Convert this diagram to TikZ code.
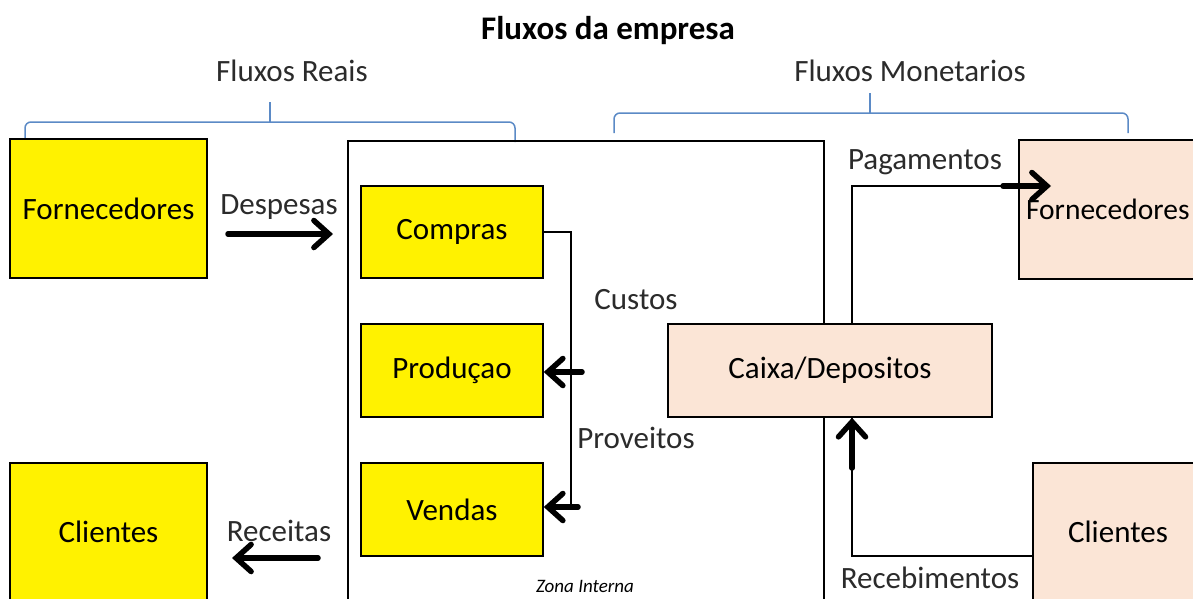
\documentclass[tikz,border=0pt]{standalone}
\usepackage{fontspec}
\setmainfont{Carlito}
\usetikzlibrary{arrows.meta}
\definecolor{peach}{HTML}{FBE5D6}
\definecolor{bracec}{HTML}{5B8AC6}
\definecolor{labc}{HTML}{2B2B2B}
\begin{document}
\begin{tikzpicture}[x=1pt,y=-1pt,
  box/.style={draw=black, line width=1.5pt, inner sep=0pt, font=\fontsize{31}{35}\selectfont},
  ybox/.style={box, fill=yellow},
  pbox/.style={box, fill=peach},
  lab/.style={font=\fontsize{31}{35}\selectfont, text=labc, inner sep=0pt},
  thinline/.style={draw=black, line width=1.5pt},
  fat/.style={draw=black, line width=5.5pt, line cap=round, -{Straight Barb[length=15pt,width=27pt,line cap=round]}},
  bracel/.style={draw=bracec, line width=1.5pt}
]
\useasboundingbox (0,0) rectangle (1193,598);
\clip (0,0) rectangle (1193,598);
\fill[white] (0,0) rectangle (1193,598);

% title and braces
\node[font=\fontsize{33}{37}\selectfont\bfseries, inner sep=0pt] (title) at (608,31) {Fluxos da empresa};
\node[lab] (reais) at (292,71) {Fluxos Reais};
\node[lab] (monet) at (910,71) {Fluxos Monetarios};
\draw[bracel, rounded corners=6pt] (25,142) -- (25,122) -- (515,122) -- (515,142);
\draw[bracel] (270,122) -- (270,102);
\draw[bracel, rounded corners=6pt] (614,133) -- (614,113) -- (1128,113) -- (1128,133);
\draw[bracel] (870,113) -- (870,93);

% zona interna
\node[draw=black, line width=1.5pt, minimum width=476pt, minimum height=480pt, anchor=north west, inner sep=0pt] (zona) at (347,140) {};
\node[font=\fontsize{19}{21}\selectfont\itshape, inner sep=0pt] (zonalab) at (585,586) {Zona Interna};

% boxes
\node[ybox, minimum width=197pt, minimum height=139pt] (fornL) at (108.5,208.5) {Fornecedores};
\node[ybox, minimum width=197pt, minimum height=138pt] (cliL) at (108.5,532) {Clientes};
\node[ybox, minimum width=182pt, minimum height=92pt] (compras) at (452,232) {Compras};
\node[ybox, minimum width=182pt, minimum height=93pt] (prod) at (452,370.5) {Produçao};
\node[ybox, minimum width=182pt, minimum height=93pt] (vendas) at (452,509.5) {Vendas};
\node[pbox, minimum width=324pt, minimum height=93pt] (caixa) at (830,370.5) {Caixa/Depositos};
\node[pbox, minimum width=180pt, minimum height=139pt, text width=166pt, align=left, inner xsep=6pt, font=\fontsize{29.5}{33}\selectfont] (fornR) at (1109,209.5) {Fornecedores};
\node[pbox, minimum width=170pt, minimum height=138pt] (cliR) at (1118,532) {Clientes};

% labels
\node[lab] (despesas) at (279,207) {Despesas};
\node[lab] (receitas) at (279,531) {Receitas};
\node[lab] (custos) at (636,300) {Custos};
\node[lab] (proveitos) at (636,438) {Proveitos};
\node[lab] (pagam) at (925,162) {Pagamentos};
\node[lab] (receb) at (930,578) {Recebimentos};

% coordinates
\coordinate (da) at (228,234);
\coordinate (db) at (333,234);
\coordinate (ra) at (318,558);
\coordinate (rb) at (232,558);
\coordinate (cbend) at (571,507);
\coordinate (pa) at (582,372);
\coordinate (va) at (578,507);
\coordinate (p1) at (852,186);
\coordinate (p2) at (1010,186);
\coordinate (p3) at (1003,186);
\coordinate (ptip) at (1051,186);
\coordinate (r1) at (852,556);
\coordinate (r2) at (852,468);

% connectors
\draw[fat] (da) -- (db);
\draw[fat] (ra) -- (rb);
\draw[thinline] (compras.east) -| (cbend);
\draw[fat] (pa) -- (prod.east |- pa);
\draw[fat] (va) -- (vendas.east |- va);
\draw[thinline] (caixa.north -| p1) -- (p1) -- (p2);
\draw[fat] (p3) -- (ptip);
\draw[thinline] (cliR.west |- r1) -- (r1) -- (caixa.south -| r1);
\draw[fat] (r2) -- (caixa.south -| r2);
\end{tikzpicture}
\end{document}
